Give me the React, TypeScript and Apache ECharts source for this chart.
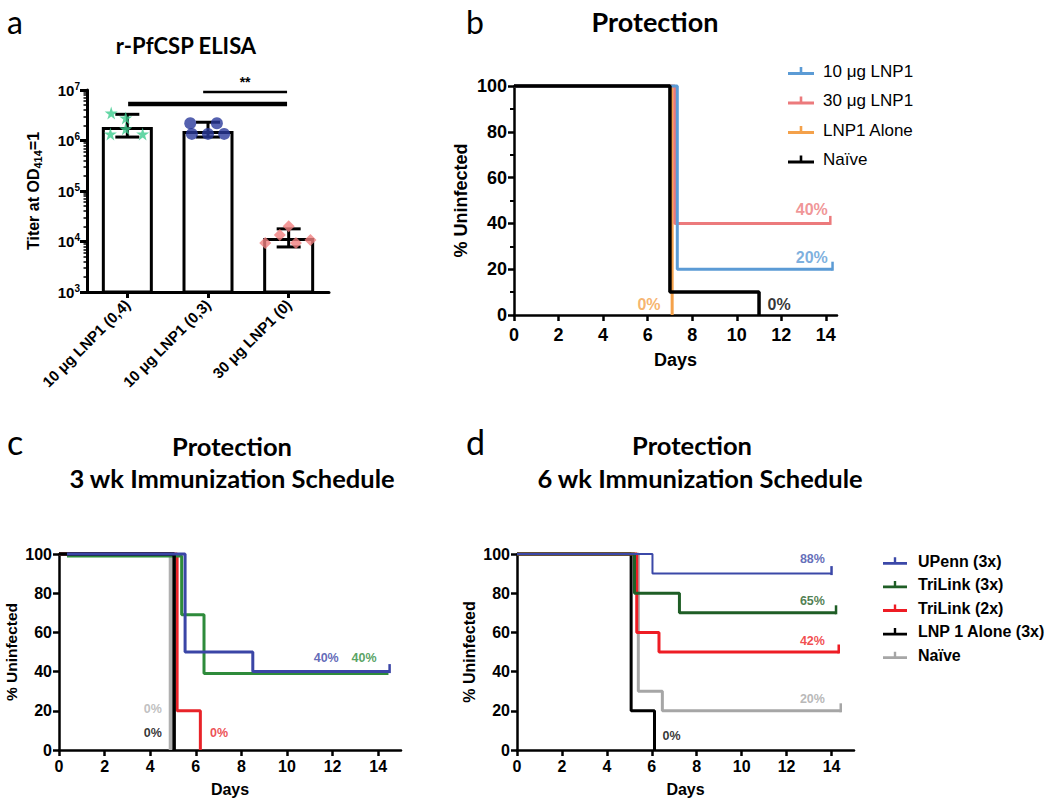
import React, { useEffect, useRef } from 'react';
import * as echarts from 'echarts';

const AX_FONT = 'Liberation Sans, Arial, Helvetica, sans-serif';
const TITLE_FONT = 'Lato, Open Sans, Noto Sans, sans-serif';

// ---------- Panel a: r-PfCSP ELISA ----------
const elisaCategories = ['10 μg LNP1 (0,4)', '10 μg LNP1 (0,3)', '30 μg LNP1 (0)'];
const elisaMeans = [1.85e6, 1.55e6, 1.17e4];
const elisaErrLow = [1.17e6, 1.17e6, 7.8e3];
const elisaErrHigh = [3.3e6, 2.3e6, 1.78e4];
const elisaDecadeTicks = [1e3, 1e4, 1e5, 1e6, 1e7];
const elisaMinorTicks = elisaDecadeTicks.slice(0, -1).flatMap((d) => [2, 3, 4, 5, 6, 7, 8, 9].map((m) => m * d));
// individual animals: [position along the category axis, titer]
const elisaPtsGroup1 = [[0.30, 3.5e6], [0.48, 2.8e6], [0.48, 1.7e6], [0.29, 1.35e6], [0.69, 1.35e6]];
const elisaPtsGroup2 = [[1.28, 2.2e6], [1.61, 2.2e6], [1.30, 1.35e6], [1.50, 1.35e6], [1.70, 1.35e6]];
const elisaPtsGroup3 = [[2.50, 2.0e4], [2.39, 1.35e4], [2.21, 9.3e3], [2.59, 9.3e3], [2.77, 1.07e4]];
// significance bars: [from, to, height]
const sigBars = [[0.51, 2.48, 5.3e6], [1.44, 2.48, 9.1e6]];
const sigMarks = ['', '**'];

// ---------- shared KM axes ----------
const dayTicks = [0, 2, 4, 6, 8, 10, 12, 14];

// ---------- Panel b: Protection ----------
const bNames = ['10 μg LNP1', '30 μg LNP1', 'LNP1 Alone', 'Naïve'];
const b10ug = [[0, 100], [7.33, 20], [14.3, 20]];
const b30ug = [[0, 100], [7.22, 40], [14.2, 40]];
const bLnpAlone = [[0, 100], [7.1, 0]];
const bNaive = [[0, 100], [7.0, 10], [11.0, 0]];
const bLabels = [
  { text: '40%', day: 13.37, pct: 46, s: 1 },
  { text: '20%', day: 13.37, pct: 25, s: 0 },
  { text: '0%', day: 6.06, pct: 4.5, s: 2 },
  { text: '0%', day: 11.9, pct: 4.5, s: 3 },
];

// ---------- Panel c: 3 wk schedule ----------
const cBlue = [[0.35, 100], [5.53, 50], [8.5, 40], [14.5, 40]];
const cGreen = [[0.35, 99], [5.38, 69], [6.36, 39], [14.45, 39]];
const cRed = [[0, 100], [5.18, 20], [6.2, 0]];
const cBlack = [[0, 100], [5.05, 0]];
const cGray = [[0, 100], [4.9, 0]];
const cLabels = [
  { text: '40%', day: 11.72, pct: 47, s: 0 },
  { text: '40%', day: 13.38, pct: 47, s: 1 },
  { text: '0%', day: 4.11, pct: 20.7, s: 4 },
  { text: '0%', day: 4.11, pct: 8.5, s: 3 },
  { text: '0%', day: 7.02, pct: 8.5, s: 2 },
];

// ---------- Panel d: 6 wk schedule ----------
const dNames = ['UPenn (3x)', 'TriLink (3x)', 'TriLink (2x)', 'LNP 1 Alone (3x)', 'Naïve'];
const dUPenn = [[0, 100], [6.03, 90], [14.0, 90]];
const dTriLink3 = [[0, 100], [5.23, 80], [7.23, 70], [14.2, 70]];
const dTriLink2 = [[0, 100], [5.33, 60], [6.32, 50], [14.32, 50]];
const dLnpAlone = [[0, 100], [5.08, 20], [6.12, 0]];
const dNaive = [[0, 100], [5.4, 30], [6.47, 20], [14.41, 20]];
const dLabels = [
  { text: '88%', day: 13.15, pct: 97.4, s: 0 },
  { text: '65%', day: 13.15, pct: 76, s: 1 },
  { text: '42%', day: 13.15, pct: 55.8, s: 2 },
  { text: '20%', day: 13.15, pct: 25.9, s: 4 },
  { text: '0%', day: 6.88, pct: 7.3, s: 3 },
];

const bColors = ['#5b9bd5', '#ec7a7c', '#f4a14a', '#000000'];
const cColors = ['#3a45a6', '#2e8b3b', '#e82329', '#000000', '#b0b0b0'];
const dColors = ['#3b48a8', '#1f5e26', '#ee1c24', '#000000', '#a6a6a6'];

const LEGEND_ICON = 'path://M0,6L26,6L26,9L0,9Z M11.7,1L14.3,1L14.3,6L11.7,6Z';
const STAR = 'path://M50,0 L61,35 L98,35 L68,57 L79,91 L50,70 L21,91 L32,57 L2,35 L39,35 Z';

function km(name: string, pts: number[][], color: string, width: number, xi: number, yi: number, censored: boolean, z: number) {
  const data = pts.map((p, i) =>
    censored && i === pts.length - 1
      ? { value: p, symbol: 'rect', symbolSize: [2.5, 9], symbolOffset: [0, -3], itemStyle: { color } }
      : { value: p }
  );
  return {
    type: 'line', name, xAxisIndex: xi, yAxisIndex: yi, step: 'end', data, color,
    symbol: 'none', showSymbol: true, lineStyle: { color, width }, clip: false, z, silent: true,
  };
}

function pctLabels(items: any[], colors: string[], xi: number, yi: number, fontSize: number) {
  return {
    type: 'scatter', xAxisIndex: xi, yAxisIndex: yi, symbol: 'circle', symbolSize: 1, z: 20, silent: true,
    itemStyle: { color: 'rgba(0,0,0,0)' },
    data: items.map((it) => ({
      name: it.text, value: [it.day, it.pct],
      label: { show: true, position: 'inside', formatter: '{b}', color: colors[it.s], fontSize, fontWeight: 'bold', fontFamily: AX_FONT },
    })),
  };
}

function kmX(grid: number, max: number, fontSize: number, margin: number, nameGap: number) {
  return {
    gridIndex: grid, type: 'value', min: 0, max, interval: 2,
    axisLine: { show: true, onZero: false, lineStyle: { color: '#000', width: 2.5 } },
    axisTick: { show: true, length: 6, customValues: dayTicks, lineStyle: { color: '#000', width: 2.5 } },
    axisLabel: { customValues: dayTicks, fontSize, fontWeight: 'bold', color: '#000', fontFamily: AX_FONT, margin },
    splitLine: { show: false },
    name: 'Days', nameLocation: 'middle', nameGap,
    nameTextStyle: { fontSize, fontWeight: 'bold', color: '#000', fontFamily: AX_FONT },
  };
}

function kmY(grid: number, fontSize: number, nameFont: number, nameGap: number, minor: boolean) {
  return {
    gridIndex: grid, type: 'value', min: 0, max: 100, interval: 20, position: 'left',
    axisLine: { show: true, onZero: false, lineStyle: { color: '#000', width: 2.5 } },
    axisTick: { show: true, length: 6, lineStyle: { color: '#000', width: 2.5 } },
    minorTick: { show: minor, splitNumber: 2, length: 4, lineStyle: { color: '#000', width: 2 } },
    axisLabel: { fontSize, fontWeight: 'bold', color: '#000', fontFamily: AX_FONT, margin: 7 },
    splitLine: { show: false }, minorSplitLine: { show: false },
    name: '% Uninfected', nameLocation: 'middle', nameGap,
    nameTextStyle: { fontSize: nameFont, fontWeight: 'bold', color: '#000', fontFamily: AX_FONT },
  };
}

function txt(text: string, x: number, y: number, size: number, weight: string, align: string) {
  return {
    type: 'text', x, y, silent: true,
    style: { text, fill: '#000', fontSize: size, fontWeight: weight, fontFamily: TITLE_FONT, align, verticalAlign: 'middle' },
  };
}

export default function App() {
  const ref = useRef<HTMLDivElement>(null);
  useEffect(() => {
    if (!ref.current) return;
    const chart = echarts.init(ref.current, null, { renderer: 'svg' });
    const option: any = {
      animation: false,
      backgroundColor: '#ffffff',
      grid: [
        { left: 87, top: 90, width: 242, height: 202 },
        { left: 514, top: 86, width: 323, height: 229 },
        { left: 59, top: 554, width: 342, height: 196 },
        { left: 517, top: 554, width: 337, height: 196 },
      ],
      xAxis: [
        {
          gridIndex: 0, type: 'category', data: elisaCategories,
          axisLine: { show: true, onZero: false, lineStyle: { color: '#000', width: 3 } },
          axisTick: { show: true, alignWithLabel: true, length: 6, lineStyle: { color: '#000', width: 3 } },
          axisLabel: { interval: 0, rotate: 45, margin: 10, fontSize: 15, fontWeight: 'bold', color: '#000', fontFamily: AX_FONT },
          splitLine: { show: false },
        },
        { gridIndex: 0, type: 'value', min: 0, max: 3, show: false },
        kmX(1, 14.5, 18, 11, 36),
        kmX(2, 15, 16, 8, 31),
        kmX(3, 15, 16, 8, 31),
      ],
      yAxis: [
        {
          gridIndex: 0, type: 'log', logBase: 10, min: 1e3, max: 1e7, position: 'left',
          axisLine: { show: true, onZero: false, lineStyle: { color: '#000', width: 3 } },
          axisTick: { show: true, length: 7, customValues: elisaDecadeTicks, lineStyle: { color: '#000', width: 3 } },
          axisLabel: {
            customValues: elisaDecadeTicks, margin: 7,
            formatter: (v: number) => `{b|10}{s|${Math.round(Math.log10(v))}}`,
            rich: {
              b: { fontSize: 15, fontWeight: 'bold', color: '#000', fontFamily: AX_FONT, lineHeight: 18 },
              s: { fontSize: 10, fontWeight: 'bold', color: '#000', fontFamily: AX_FONT, verticalAlign: 'top', lineHeight: 10 },
            },
          },
          splitLine: { show: false },
          name: '{n|Titer at OD}{s|414}{n|=1}', nameLocation: 'middle', nameGap: 44, nameRotate: 90,
          nameTextStyle: {
            rich: {
              n: { fontSize: 16, fontWeight: 'bold', color: '#000', fontFamily: AX_FONT, lineHeight: 20 },
              s: { fontSize: 11, fontWeight: 'bold', color: '#000', fontFamily: AX_FONT, verticalAlign: 'bottom', lineHeight: 12 },
            },
          },
        },
        kmY(1, 18, 18, 44, true),
        kmY(2, 16, 15.5, 40, false),
        kmY(3, 16, 16, 40, false),
        {
          gridIndex: 0, type: 'log', logBase: 10, min: 1e3, max: 1e7, position: 'left',
          axisLine: { show: false },
          axisTick: { show: true, length: 3.5, customValues: elisaMinorTicks, lineStyle: { color: '#000', width: 1.5 } },
          axisLabel: { show: false },
          splitLine: { show: false },
        },
      ],
      legend: [
        {
          selectedMode: false, orient: 'vertical', left: 783, top: 56,
          itemWidth: 26, itemHeight: 9, itemGap: 9.5, icon: LEGEND_ICON,
          itemStyle: { borderWidth: 0 },
          textStyle: { fontFamily: AX_FONT, fontSize: 17, color: '#000', lineHeight: 20, padding: [0, 0, 0, 4] },
          data: bNames.map((n, i) => ({ name: n, itemStyle: { color: bColors[i], borderWidth: 0 } })),
        },
        {
          selectedMode: false, orient: 'vertical', left: 878, top: 547,
          itemWidth: 24, itemHeight: 9, itemGap: 5.6, icon: LEGEND_ICON,
          itemStyle: { borderWidth: 0 },
          textStyle: { fontFamily: AX_FONT, fontSize: 16, fontWeight: 'bold', color: '#000', lineHeight: 18, padding: [0, 0, 0, 6] },
          data: dNames.map((n, i) => ({ name: n, itemStyle: { color: dColors[i], borderWidth: 0 } })),
        },
      ],
      series: [
        // ----- panel a -----
        {
          type: 'bar', xAxisIndex: 0, yAxisIndex: 0, data: elisaMeans, barWidth: 51, silent: true, z: 2,
          itemStyle: { color: '#ffffff', borderColor: '#000', borderWidth: 3 },
        },
        {
          type: 'custom', xAxisIndex: 0, yAxisIndex: 0, z: 4, silent: true,
          data: elisaCategories.map((_, i) => [i, elisaErrLow[i], elisaErrHigh[i]]),
          encode: { x: 0, y: [1, 2] },
          renderItem: (params: any, api: any) => {
            const c = api.value(0);
            const lo = api.coord([c, api.value(1)]);
            const hi = api.coord([c, api.value(2)]);
            const w = 12;
            const style = { stroke: '#000', lineWidth: 3, fill: 'none' };
            return {
              type: 'group',
              children: [
                { type: 'line', shape: { x1: lo[0], y1: lo[1], x2: hi[0], y2: hi[1] }, style },
                { type: 'line', shape: { x1: lo[0] - w, y1: lo[1], x2: lo[0] + w, y2: lo[1] }, style },
                { type: 'line', shape: { x1: hi[0] - w, y1: hi[1], x2: hi[0] + w, y2: hi[1] }, style },
              ],
            };
          },
        },
        {
          type: 'scatter', xAxisIndex: 1, yAxisIndex: 0, data: elisaPtsGroup1, symbol: STAR, symbolSize: 13,
          itemStyle: { color: '#3dcc8e' }, z: 5, silent: true,
        },
        {
          type: 'scatter', xAxisIndex: 1, yAxisIndex: 0, data: elisaPtsGroup2, symbol: 'circle', symbolSize: 12,
          itemStyle: { color: '#2b3a9b' }, z: 5, silent: true,
        },
        {
          type: 'scatter', xAxisIndex: 1, yAxisIndex: 0, data: elisaPtsGroup3, symbol: 'diamond', symbolSize: 12,
          itemStyle: { color: '#f07f7f' }, z: 5, silent: true,
        },
        {
          type: 'custom', xAxisIndex: 1, yAxisIndex: 0, z: 6, silent: true, clip: false,
          data: sigBars,
          encode: { x: [0, 1], y: 2 },
          renderItem: (params: any, api: any) => {
            const a = api.coord([api.value(0), api.value(2)]);
            const b = api.coord([api.value(1), api.value(2)]);
            const lw = params.dataIndex === 0 ? 4.5 : 2.5;
            const mark = sigMarks[params.dataIndex];
            const children: any[] = [
              { type: 'line', shape: { x1: a[0], y1: a[1], x2: b[0], y2: b[1] }, style: { stroke: '#000', lineWidth: lw } },
            ];
            if (mark) {
              children.push({
                type: 'text', x: (a[0] + b[0]) / 2, y: a[1] - 3,
                style: { text: mark, fill: '#000', fontSize: 14, fontWeight: 'bold', fontFamily: AX_FONT, align: 'center', verticalAlign: 'bottom' },
              });
            }
            return { type: 'group', children };
          },
        },
        // ----- panel b -----
        km(bNames[2], bLnpAlone, bColors[2], 3, 2, 1, false, 2),
        km(bNames[1], b30ug, bColors[1], 3, 2, 1, true, 3),
        km(bNames[0], b10ug, bColors[0], 3, 2, 1, true, 4),
        km(bNames[3], bNaive, bColors[3], 3.5, 2, 1, false, 5),
        pctLabels(bLabels, bColors, 2, 1, 16),
        // ----- panel c -----
        km('c-gray', cGray, cColors[4], 4, 3, 2, false, 2),
        km('c-red', cRed, cColors[2], 3, 3, 2, false, 3),
        km('c-green', cGreen, cColors[1], 3, 3, 2, false, 4),
        km('c-black', cBlack, cColors[3], 3.5, 3, 2, false, 5),
        km('c-blue', cBlue, cColors[0], 3, 3, 2, true, 6),
        pctLabels(cLabels, cColors, 3, 2, 12.5),
        // ----- panel d -----
        km(dNames[4], dNaive, dColors[4], 3, 4, 3, true, 2),
        km(dNames[3], dLnpAlone, dColors[3], 3, 4, 3, false, 3),
        km(dNames[2], dTriLink2, dColors[2], 3, 4, 3, true, 4),
        km(dNames[1], dTriLink3, dColors[1], 3, 4, 3, true, 5),
        km(dNames[0], dUPenn, dColors[0], 2, 4, 3, true, 6),
        pctLabels(dLabels, dColors, 4, 3, 12.5),
      ],
      graphic: [
        txt('a', 7, 21, 32, 'normal', 'left'),
        txt('b', 466, 21, 32, 'normal', 'left'),
        txt('c', 7, 441, 34, 'normal', 'left'),
        txt('d', 466, 441, 34, 'normal', 'left'),
        txt('r-PfCSP ELISA', 186, 45, 22, 'bold', 'center'),
        txt('Protection', 655, 21, 27, 'bold', 'center'),
        txt('Protection', 232, 446, 25.5, 'bold', 'center'),
        txt('3 wk Immunization Schedule', 232, 478, 25.5, 'bold', 'center'),
        txt('Protection', 692, 445, 25.5, 'bold', 'center'),
        txt('6 wk Immunization Schedule', 700, 478, 25.5, 'bold', 'center'),
      ],
    };
    chart.setOption(option);
    return () => chart.dispose();
  }, []);
  return <div ref={ref} style={{ position: 'absolute', left: 0, top: 0, width: 1050, height: 804, background: '#fff' }} />;
}
